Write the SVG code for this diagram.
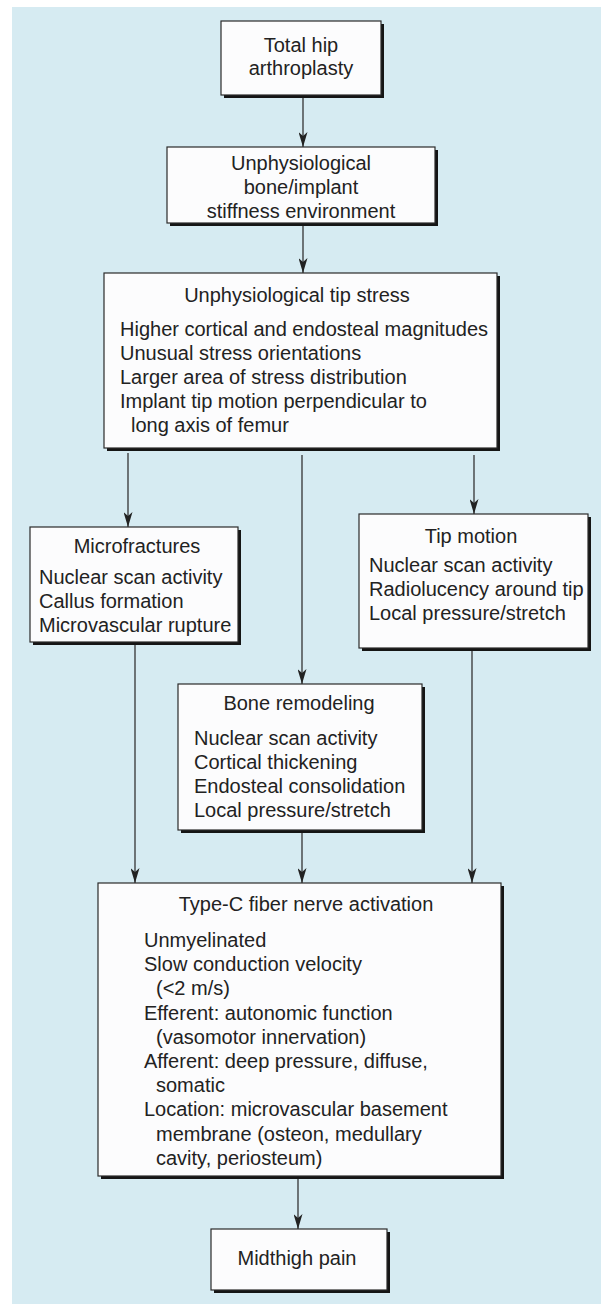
<svg xmlns="http://www.w3.org/2000/svg" width="604" height="1304" viewBox="0 0 604 1304">
<defs>
<style>
.bg{fill:#d6ebf2}
.box{fill:#fcfcfd;stroke:#2a2a2a;stroke-width:1.2}
.sh{fill:#151515}
.t{font-family:"Liberation Sans",Arial,Helvetica,sans-serif;font-size:20px;fill:#222}
.c{text-anchor:middle}
.ln{stroke:#333;stroke-width:1.3;fill:none}
</style>
<marker id="ah" viewBox="0 0 15 9" refX="15" refY="4.5" markerWidth="15" markerHeight="9" markerUnits="userSpaceOnUse" orient="auto">
<path d="M0,0 L15,4.5 L0,9 L4,4.5 Z" fill="#222"/>
</marker>
</defs>
<rect x="0" y="0" width="604" height="1304" fill="#ffffff"/>
<rect class="bg" x="12" y="7" width="589" height="1297"/>

<g id="connectors">
<line class="ln" x1="303" y1="98" x2="303" y2="147" marker-end="url(#ah)"/>
<line class="ln" x1="303" y1="226" x2="303" y2="273" marker-end="url(#ah)"/>
<line class="ln" x1="128" y1="453" x2="128" y2="527" marker-end="url(#ah)"/>
<line class="ln" x1="302" y1="455" x2="302" y2="684" marker-end="url(#ah)"/>
<line class="ln" x1="474" y1="455" x2="474" y2="514" marker-end="url(#ah)"/>
<line class="ln" x1="135" y1="645" x2="135" y2="883" marker-end="url(#ah)"/>
<line class="ln" x1="302" y1="833" x2="302" y2="883" marker-end="url(#ah)"/>
<line class="ln" x1="472" y1="651" x2="472" y2="883" marker-end="url(#ah)"/>
<line class="ln" x1="298" y1="1179" x2="298" y2="1229" marker-end="url(#ah)"/>
</g>

<g id="n1">
<rect class="sh" x="224" y="24" width="160" height="74"/>
<rect class="box" x="221" y="21" width="160" height="74"/>
<text class="t c" x="301" y="52">Total hip</text>
<text class="t c" x="301" y="75">arthroplasty</text>
</g>

<g id="n2">
<rect class="sh" x="170" y="150" width="268" height="76"/>
<rect class="box" x="167" y="147" width="268" height="76"/>
<text class="t c" x="301" y="170">Unphysiological</text>
<text class="t c" x="301" y="194">bone/implant</text>
<text class="t c" x="301" y="218">stiffness environment</text>
</g>

<g id="n3">
<rect class="sh" x="107" y="276" width="393" height="175"/>
<rect class="box" x="104" y="273" width="393" height="175"/>
<text class="t c" x="297" y="302">Unphysiological tip stress</text>
<text class="t" x="120" y="336">Higher cortical and endosteal magnitudes</text>
<text class="t" x="120" y="360">Unusual stress orientations</text>
<text class="t" x="120" y="384">Larger area of stress distribution</text>
<text class="t" x="120" y="408">Implant tip motion perpendicular to</text>
<text class="t" x="131" y="432">long axis of femur</text>
</g>

<g id="n4">
<rect class="sh" x="33" y="530" width="208" height="115"/>
<rect class="box" x="30" y="527" width="208" height="115"/>
<text class="t c" x="137" y="553">Microfractures</text>
<text class="t" x="39" y="584">Nuclear scan activity</text>
<text class="t" x="39" y="608">Callus formation</text>
<text class="t" x="39" y="632">Microvascular rupture</text>
</g>

<g id="n5">
<rect class="sh" x="362" y="517" width="229" height="134"/>
<rect class="box" x="359" y="514" width="229" height="134"/>
<text class="t c" x="471" y="543">Tip motion</text>
<text class="t" x="369" y="572">Nuclear scan activity</text>
<text class="t" x="369" y="596">Radiolucency around tip</text>
<text class="t" x="369" y="620">Local pressure/stretch</text>
</g>

<g id="n6">
<rect class="sh" x="181" y="687" width="244" height="146"/>
<rect class="box" x="178" y="684" width="244" height="146"/>
<text class="t c" x="299" y="710">Bone remodeling</text>
<text class="t" x="194" y="745">Nuclear scan activity</text>
<text class="t" x="194" y="769">Cortical thickening</text>
<text class="t" x="194" y="793">Endosteal consolidation</text>
<text class="t" x="194" y="817">Local pressure/stretch</text>
</g>

<g id="n7">
<rect class="sh" x="101" y="886" width="403" height="293"/>
<rect class="box" x="98" y="883" width="403" height="293"/>
<text class="t c" x="306" y="911">Type-C fiber nerve activation</text>
<text class="t" x="144" y="947">Unmyelinated</text>
<text class="t" x="144" y="971">Slow conduction velocity</text>
<text class="t" x="156" y="995">(&lt;2 m/s)</text>
<text class="t" x="144" y="1020">Efferent: autonomic function</text>
<text class="t" x="156" y="1044">(vasomotor innervation)</text>
<text class="t" x="144" y="1068">Afferent: deep pressure, diffuse,</text>
<text class="t" x="156" y="1092">somatic</text>
<text class="t" x="144" y="1116">Location: microvascular basement</text>
<text class="t" x="156" y="1141">membrane (osteon, medullary</text>
<text class="t" x="156" y="1165">cavity, periosteum)</text>
</g>

<g id="n8">
<rect class="sh" x="214" y="1232" width="176" height="61"/>
<rect class="box" x="211" y="1229" width="176" height="61"/>
<text class="t c" x="297" y="1265">Midthigh pain</text>
</g>
</svg>
